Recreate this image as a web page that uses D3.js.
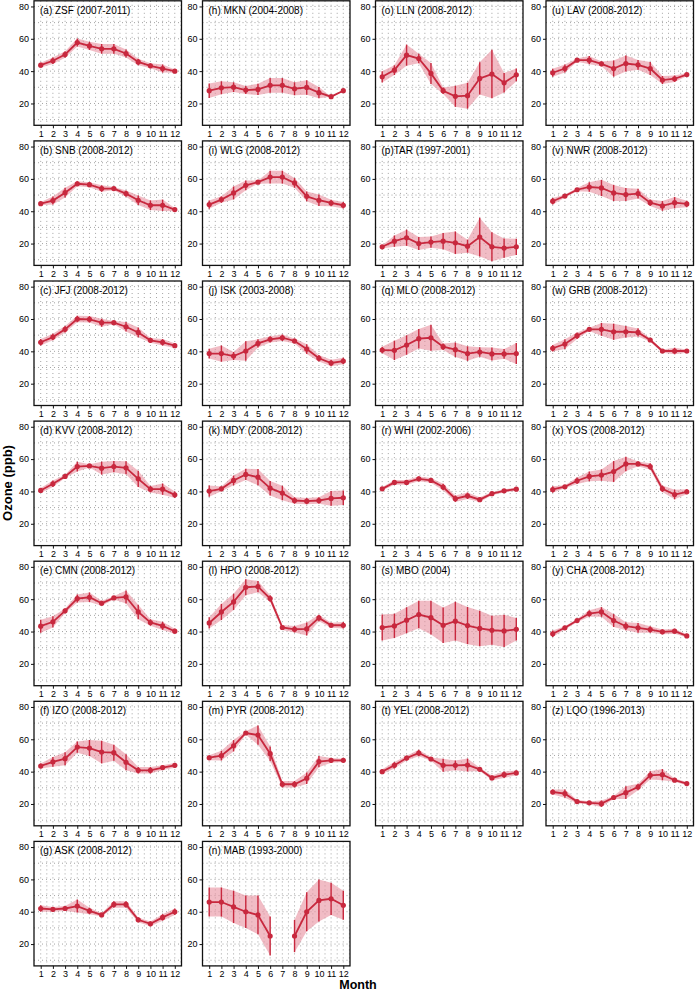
<!DOCTYPE html>
<html><head><meta charset="utf-8">
<script src="https://cdn.jsdelivr.net/npm/d3@7"></script>
<style>body{margin:0;background:#fff}svg{display:block}text{font-family:"Liberation Sans",Arial,Helvetica,sans-serif}</style>
</head><body><svg id="c" width="695" height="992"></svg>
<script>
const months = [1,2,3,4,5,6,7,8,9,10,11,12];
const yTicks = [20,40,60,80];
const yMinor = [10,30,50,70];

const ZSF = [43.7,46.4,50.3,57.7,55.6,53.8,53.8,50.9,45.7,43.3,41.6,40];
const ZSF_sd = [1.5,2,2,2.5,2.5,3,3,2.5,2,1.5,2.5,1];
const SNB = [44.7,46.6,51.5,57,56.4,54,54,50.9,46.8,43.7,43.7,41];
const SNB_sd = [1,2.5,3,1.5,1.5,2,1,2,3,3,3.5,1];
const JFJ = [45.6,48.8,53.6,60,59.8,57.7,57.7,55.2,51.7,46.8,45.6,43.5];
const JFJ_sd = [2,2,2,2,2,2.5,1,3,3,1.5,2,1.5];
const KVV = [40.6,44.7,49.3,55.4,55.8,54.4,55.4,54.6,47.8,41.4,41.4,37.9];
const KVV_sd = [1.5,2,1,3,1,4,3.5,4,5,2,3.5,2];
const CMN = [43.3,46,52.8,60.4,61.2,57.5,60.8,61.4,52.1,45.6,43.5,40.2];
const CMN_sd = [4,3.5,1.5,2.5,3,1.5,1,4,4.5,2,2.5,1.5];
const IZO = [43.5,46,48,55.2,54.6,52.1,51.7,45.8,40.8,40.8,42.5,43.9];
const IZO_sd = [1.5,3,4,3.5,5,7,5,5,2,2,1.5,1.5];
const ASK = [42,41.5,42,43.5,40.5,38,44.5,44.5,35,32.5,36.5,40];
const ASK_sd = [2,1.5,1.5,4,2,1,2,2,1.5,1.5,2,2];
const MKN = [27.9,29.7,30.1,28.3,28.7,31.2,31.2,29.1,29.9,26.7,24.2,27.9];
const MKN_sd = [4.5,4,3,2.5,3.5,4.5,4.5,4,4.5,3.5,0,0];
const WLG = [44.1,47.2,51.3,56,58,61.1,61.1,57.5,49.2,46.8,45.1,43.7];
const WLG_sd = [2.5,2,4,3,1,4,4,3,3,3.5,2,2];
const ISK = [38.6,38.6,37.1,40.2,44.9,47.4,48.4,46.4,41.4,35.7,32.8,34];
const ISK_sd = [3,5,2.5,6,2.5,2,2,1.5,3,2,2,2];
const MDY = [40.2,41.6,46.8,50.5,48.8,42,39,34.4,34,34.4,35.7,36.1];
const MDY_sd = [3.5,1.5,3,3.5,5,4.5,4.5,2,2,2,4.5,4.5];
const HPO = [45.3,52.1,58.3,67.4,67.8,60.4,42.5,41.4,41.6,48.4,43.9,43.9];
const HPO_sd = [3.5,5,5,5,3.5,2,1.5,2,4,2,1.5,2];
const PYR = [48.6,49.9,56,63.9,62.6,51.1,32.2,32.2,35.9,46.2,47,47];
const PYR_sd = [1.5,3,3.5,1,6,4.5,2,2,3.5,3.5,1.5,1];
const MAB = [46,46,43,40,38,25,null,25,40,47,48,44];
const MAB_sd = [9,9,10,10,12,12,null,10,12,13,10,9];
const LLN = [36.5,40.6,49.9,47.8,38.6,27.9,24.4,24.8,35.5,38.2,32.8,37.7];
const LLN_sd = [3.5,3,6.5,3,6.5,2,6.5,8,10,15,6,4];
const TAR = [18,21.5,23.6,20,20.9,21.5,20.5,18.4,24,18,17.2,18];
const TAR_sd = [1,3.5,5,4,3.5,5,7,4,12,9,6,5];
const MLO = [40.8,40.6,43.9,47.8,48.4,42.9,41,38.6,39.6,38.4,38.4,38.6];
const MLO_sd = [2,6,6,6,8,2,4.5,4.5,3,4,3,6.5];
const WHI = [41.6,45.6,45.6,47.8,46.8,42.7,35.5,37.3,34.9,38.6,40.4,41.4];
const WHI_sd = [1,1.5,1.5,1.5,1.5,2,2,2,1.5,1,1,1];
const MBO = [42.5,43.5,47,50.5,48.6,43.9,46.4,43.7,41.9,40.8,40.4,41.4];
const MBO_sd = [8,7.5,8,8.5,10.5,11,12,11.5,11,9,10,7];
const YEL = [40,43.9,48.4,51.5,47.8,43.9,43.9,44.1,41.4,36.1,38.1,39.2];
const YEL_sd = [1.5,2,1.5,2,1,4,3,4,1,1.5,2,1.5];
const LAV = [39,41.6,46.8,46.8,44.5,41.6,44.7,43.9,41.6,34.5,35.3,37.9];
const LAV_sd = [2.5,2.5,1,2.5,1.5,5,5,3,4,2.5,2,1];
const NWR = [46.2,49.4,53.3,55,54.4,51.3,50.3,50.9,45.3,43.3,45.3,44.5];
const NWR_sd = [2,1,1,3,5,5,4,3,2,3,3.5,2];
const GRB = [41.9,44.5,49.7,53.6,53.6,52.1,52.1,51.7,47,40.2,40.2,40.2];
const GRB_sd = [2,3,2,1,4,5,3.5,2.5,1,1,2,1];
const YOS = [41.2,42.9,46.6,49.3,50.1,52.3,57,57,55.4,41.6,38.1,39.8];
const YOS_sd = [2,1,2,3,3.5,6.5,4.5,1.5,2,2,3,1.5];
const CHA = [38.6,42.3,46.8,51.1,52.1,46.8,43.3,42.3,41.2,39.8,40.2,37.3];
const CHA_sd = [2,1,1,2,3,4,2.5,3,2,1.5,1.5,1];
const LQO = [27.4,26.4,21.5,20.7,20.2,24,27,30.5,37.7,38.1,34.7,32.6];
const LQO_sd = [1.5,2.5,1,1,2,1,4,2,2.5,3.5,1,1];

const titles = [
 ["(a) ZSF (2007-2011)","(b) SNB (2008-2012)","(c) JFJ (2008-2012)","(d) KVV (2008-2012)","(e) CMN (2008-2012)","(f) IZO (2008-2012)","(g) ASK (2008-2012)"],
 ["(h) MKN (2004-2008)","(i) WLG (2008-2012)","(j) ISK (2003-2008)","(k) MDY (2008-2012)","(l) HPO (2008-2012)","(m) PYR (2008-2012)","(n) MAB (1993-2000)"],
 ["(o) LLN (2008-2012)","(p)TAR (1997-2001)","(q) MLO (2008-2012)","(r) WHI (2002-2006)","(s) MBO (2004)","(t) YEL (2008-2012)"],
 ["(u) LAV (2008-2012)","(v) NWR (2008-2012)","(w) GRB (2008-2012)","(x) YOS (2008-2012)","(y) CHA (2008-2012)","(z) LQO (1996-2013)"]
];
const series = [
 [[ZSF,ZSF_sd],[SNB,SNB_sd],[JFJ,JFJ_sd],[KVV,KVV_sd],[CMN,CMN_sd],[IZO,IZO_sd],[ASK,ASK_sd]],
 [[MKN,MKN_sd],[WLG,WLG_sd],[ISK,ISK_sd],[MDY,MDY_sd],[HPO,HPO_sd],[PYR,PYR_sd],[MAB,MAB_sd]],
 [[LLN,LLN_sd],[TAR,TAR_sd],[MLO,MLO_sd],[WHI,WHI_sd],[MBO,MBO_sd],[YEL,YEL_sd]],
 [[LAV,LAV_sd],[NWR,NWR_sd],[GRB,GRB_sd],[YOS,YOS_sd],[CHA,CHA_sd],[LQO,LQO_sd]]
];

const svg = d3.select("#c");
const RED = "#c8283e", FILL = "#e8909f";
const colLeft = [34, 202.5, 375.5, 546];
const W = 147.5, H = 124.5, rowStep = 140.1, top0 = 0.8;

series.forEach((col, ci) => {
  col.forEach((s, ri) => {
    const L = colLeft[ci], T = top0 + ri*rowStep;
    const x = d3.scaleLinear().domain([0.45, 12.55]).range([L, L+W]);
    const y = d3.scaleLinear().domain([6.5, 83.5]).range([T+H, T]);
    const g = svg.append("g");
    const grid = g.append("g").attr("stroke","#9a9a9a").attr("stroke-width",0.9).attr("stroke-dasharray","1,3");
    yTicks.concat(yMinor).forEach(v => grid.append("line").attr("x1",L).attr("x2",L+W).attr("y1",y(v)).attr("y2",y(v)));
    const xv = months.concat(months.map(m=>m+0.5)).filter(v=>v<12.55);
    xv.forEach(v => grid.append("line").attr("y1",T).attr("y2",T+H).attr("x1",x(v)).attr("x2",x(v)));
    const data = months.map((m,i)=>({m, v:s[0][i], sd:s[1][i]}));
    const def = d => d.v !== null;
    g.append("path").datum(data).attr("fill",FILL).attr("fill-opacity",0.6)
      .attr("d", d3.area().defined(def).x(d=>x(d.m)).y0(d=>y(d.v-d.sd)).y1(d=>y(d.v+d.sd)));
    g.append("path").datum(data).attr("fill","none").attr("stroke",RED).attr("stroke-width",1.8)
      .attr("d", d3.line().defined(def).x(d=>x(d.m)).y(d=>y(d.v)));
    g.selectAll(".eb").data(data.filter(def)).join("line").attr("stroke",RED).attr("stroke-width",1.4)
      .attr("x1",d=>x(d.m)).attr("x2",d=>x(d.m)).attr("y1",d=>y(d.v-d.sd)).attr("y2",d=>y(d.v+d.sd));
    g.selectAll(".pt").data(data.filter(def)).join("circle").attr("fill",RED)
      .attr("cx",d=>x(d.m)).attr("cy",d=>y(d.v)).attr("r",2.6);
    g.append("rect").attr("x",L).attr("y",T).attr("width",W).attr("height",H)
      .attr("fill","none").attr("stroke","#111").attr("stroke-width",1.3);
    const ya = g.append("g").attr("transform",`translate(${L},0)`)
      .call(d3.axisLeft(y).tickValues(yTicks).tickSize(3).tickPadding(2));
    const xa = g.append("g").attr("transform",`translate(0,${T+H})`)
      .call(d3.axisBottom(x).tickValues(months).tickSize(3).tickPadding(2).tickFormat(d3.format("d")));
    [ya,xa].forEach(a=>{a.select(".domain").remove(); a.selectAll("text").attr("font-size",9).attr("fill","#000").attr("font-family","Liberation Sans, Arial, sans-serif"); a.selectAll("line").attr("stroke","#111");});
    g.append("text").attr("x",L+6).attr("y",T+13).attr("font-size",10).text(titles[ci][ri]);
  });
});

svg.append("text").attr("transform","translate(12,483) rotate(-90)").attr("text-anchor","middle")
  .attr("font-size",13).attr("font-weight","bold").text("Ozone (ppb)");
svg.append("text").attr("x",358).attr("y",988.5).attr("text-anchor","middle")
  .attr("font-size",12.5).attr("font-weight","bold").text("Month");
</script></body></html>
